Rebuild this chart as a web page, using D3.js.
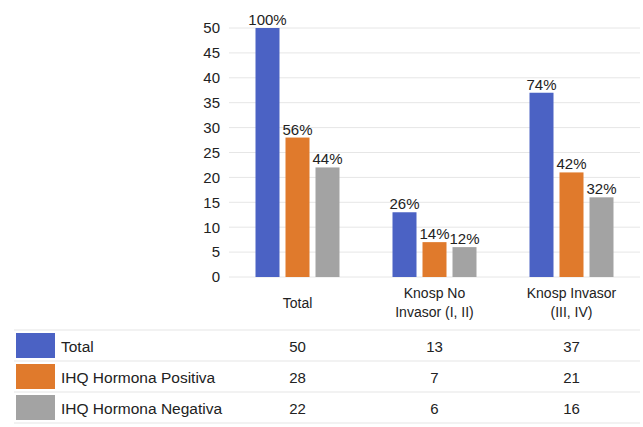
<!DOCTYPE html>
<html>
<head>
<meta charset="utf-8">
<script src="https://cdn.jsdelivr.net/npm/d3@7"></script>
<style>
  body { margin: 0; background: #fff; }
  svg { display: block; font-family: "Liberation Sans", Arial, sans-serif; }
</style>
</head>
<body>
<div class="chart"></div>
<script>
let blue = "#4b62c4";
let orange = "#e07a2c";
let gray = "#a3a3a3";
let gridColor = "#e6e6e6";
let textColor = "#222";

// data
const categories = [["Total"], ["Knosp No", "Invasor (I, II)"], ["Knosp Invasor", "(III, IV)"]];
const seriesNames = ["Total", "IHQ Hormona Positiva", "IHQ Hormona Negativa"];
const seriesColors = [blue, orange, gray];
const totalValues = [50, 13, 37];
const positivaValues = [28, 7, 21];
const negativaValues = [22, 6, 16];
const totalPct = ["100%", "26%", "74%"];
const positivaPct = ["56%", "14%", "42%"];
const negativaPct = ["44%", "12%", "32%"];
const yTicks = [0, 5, 10, 15, 20, 25, 30, 35, 40, 45, 50];

const series = [
  { name: seriesNames[0], color: seriesColors[0], values: totalValues, pct: totalPct },
  { name: seriesNames[1], color: seriesColors[1], values: positivaValues, pct: positivaPct },
  { name: seriesNames[2], color: seriesColors[2], values: negativaValues, pct: negativaPct }
];

const width = 643;
const height = 427;
const plotLeft = 229;
const plotRight = 640;
const plotTop = 28;
const plotBottom = 277;

const svg = d3.select(".chart")
  .append("svg")
  .attr("width", width)
  .attr("height", height);

//scales
const xScale = d3.scaleBand()
  .domain(d3.range(categories.length))
  .range([plotLeft, plotRight]);

const xInner = d3.scaleBand()
  .domain(d3.range(series.length))
  .range([(xScale.bandwidth() - 84) / 2, (xScale.bandwidth() + 84) / 2])
  .paddingInner(0.2);

const yScale = d3.scaleLinear()
  .domain([0, 50])
  .range([plotBottom, plotTop]);

// gridlines
svg.append("g")
  .selectAll("line")
  .data(yTicks)
  .enter()
  .append("line")
  .attr("x1", plotLeft)
  .attr("x2", plotRight)
  .attr("y1", d => yScale(d))
  .attr("y2", d => yScale(d))
  .attr("stroke", gridColor)
  .attr("stroke-width", 1);

// y axis
const yAxis = svg.append("g")
  .attr("transform", `translate(${plotLeft - 8}, 0)`)
  .call(d3.axisLeft(yScale).tickValues(yTicks).tickSize(0).tickPadding(1));
yAxis.select(".domain").remove();
yAxis.selectAll(".tick text")
  .style("font-size", "15px")
  .style("font-family", "Liberation Sans, Arial, sans-serif")
  .style("fill", textColor);

// bars
series.forEach((s, si) => {
  const g = svg.append("g");
  g.selectAll("rect")
    .data(s.values)
    .enter()
    .append("rect")
    .attr("x", (d, i) => xScale(i) + xInner(si))
    .attr("y", d => yScale(d))
    .attr("width", xInner.bandwidth())
    .attr("height", d => yScale(0) - yScale(d))
    .attr("fill", s.color);

  g.selectAll("text")
    .data(s.values)
    .enter()
    .append("text")
    .attr("x", (d, i) => xScale(i) + xInner(si) + xInner.bandwidth() / 2)
    .attr("y", d => yScale(d) - 3)
    .attr("text-anchor", "middle")
    .style("font-size", "15px")
    .style("fill", textColor)
    .text((d, i) => s.pct[i]);
});

// category labels
const catLabels = svg.append("g");
categories.forEach((lines, i) => {
  const cx = xScale(i) + xScale.bandwidth() / 2;
  const y0 = lines.length === 1 ? 308 : 298;
  lines.forEach((line, li) => {
    catLabels.append("text")
      .attr("x", cx)
      .attr("y", y0 + li * 19)
      .attr("text-anchor", "middle")
      .style("font-size", "14px")
      .style("fill", textColor)
      .text(line);
  });
});

// data table
const rowTop = 330;
const rowH = 31;
const table = svg.append("g");

d3.range(series.length + 1).forEach(r => {
  table.append("line")
    .attr("x1", 14)
    .attr("x2", plotRight)
    .attr("y1", rowTop + r * rowH)
    .attr("y2", rowTop + r * rowH)
    .attr("stroke", gridColor)
    .attr("stroke-width", 1.2);
});

series.forEach((s, si) => {
  const y = rowTop + si * rowH;
  table.append("rect")
    .attr("x", 16)
    .attr("y", y + 3)
    .attr("width", 39)
    .attr("height", rowH - 6)
    .attr("fill", s.color);

  table.append("text")
    .attr("x", 61)
    .attr("y", y + rowH / 2 + 6)
    .style("font-size", "15.5px")
    .style("fill", textColor)
    .text(s.name);

  table.selectAll(null)
    .data(s.values)
    .enter()
    .append("text")
    .attr("x", (d, i) => xScale(i) + xScale.bandwidth() / 2)
    .attr("y", y + rowH / 2 + 6)
    .attr("text-anchor", "middle")
    .style("font-size", "15px")
    .style("fill", textColor)
    .text(d => d);
});
</script>
</body>
</html>
